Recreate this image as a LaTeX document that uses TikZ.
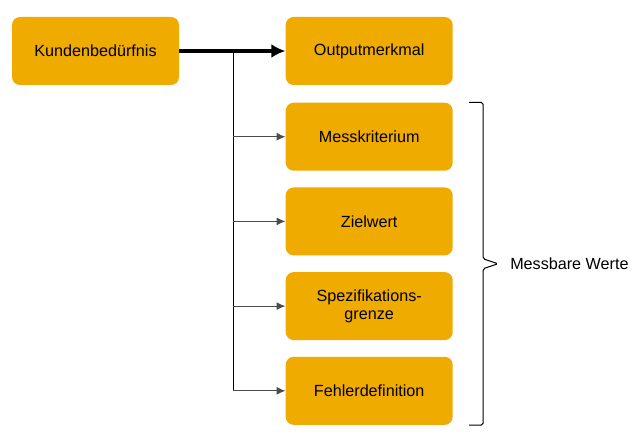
\documentclass[tikz,border=0pt]{standalone}
\usepackage{fontspec}
\setmainfont{Liberation Sans}
\usetikzlibrary{arrows.meta, positioning, calc}
\definecolor{gold}{HTML}{F0AB00}

\begin{document}
\begin{tikzpicture}[
			node distance=0.32cm,
			block/.style={rectangle, rounded corners=0.16cm, align=center,
				minimum height=1.36cm, minimum width=3.34cm, fill=gold,
				font=\fontsize{9.2}{10.5}\selectfont},
			arr/.style={-{Latex[length=5pt,width=4.5pt]}, line width=0.5pt, black!70},
			mainarr/.style={-{Latex[length=8pt,width=8pt]}, line width=2.4pt}
		]
			\useasboundingbox (0,0) rectangle (12.78,-8.78);
			\node[block] (kunden) at (1.91,-1.02) {Kundenbedürfnis};
			\node[block, right=2.12cm of kunden] (output) {Outputmerkmal};
			\node[block, below=0.34cm of output] (mess) {Messkriterium};
			\node[block, below=of mess] (ziel) {Zielwert};
			\node[block, below=of ziel] (spez) {Spezifikations-\\grenze};
			\node[block, below=of spez] (fehler) {Fehlerdefinition};
			\coordinate[right=1.08cm of kunden] (split);

			\draw[mainarr] (kunden) -- (output);
			\draw[line width=0.8pt] (split) -- (split |- fehler);
			\draw[arr] (split |- mess) -- (mess);
			\draw[arr] (split |- ziel) -- (ziel);
			\draw[arr] (split |- spez) -- (spez);
			\draw[arr] (split |- fehler) -- (fehler);

			% Klammer
			\coordinate[right=0.6cm of mess.north east] (bt);
			\coordinate (bb) at (bt |- fehler.south);
			\coordinate (tip) at ($(bt)!0.5!(bb)+(0.3,0)$);
			\draw[line width=0.6pt, rounded corners=1pt] ($(bt)+(-0.28,0)$) -- (bt) -- ($(bt |- tip)+(0,0.1)$) -- (tip) -- ($(bt |- tip)+(0,-0.1)$) -- (bb) -- ($(bb)+(-0.28,0)$);
			\node[right=0.12cm of tip, font=\fontsize{9.2}{11}\selectfont] (werte) {Messbare Werte};
		\end{tikzpicture}
\end{document}
